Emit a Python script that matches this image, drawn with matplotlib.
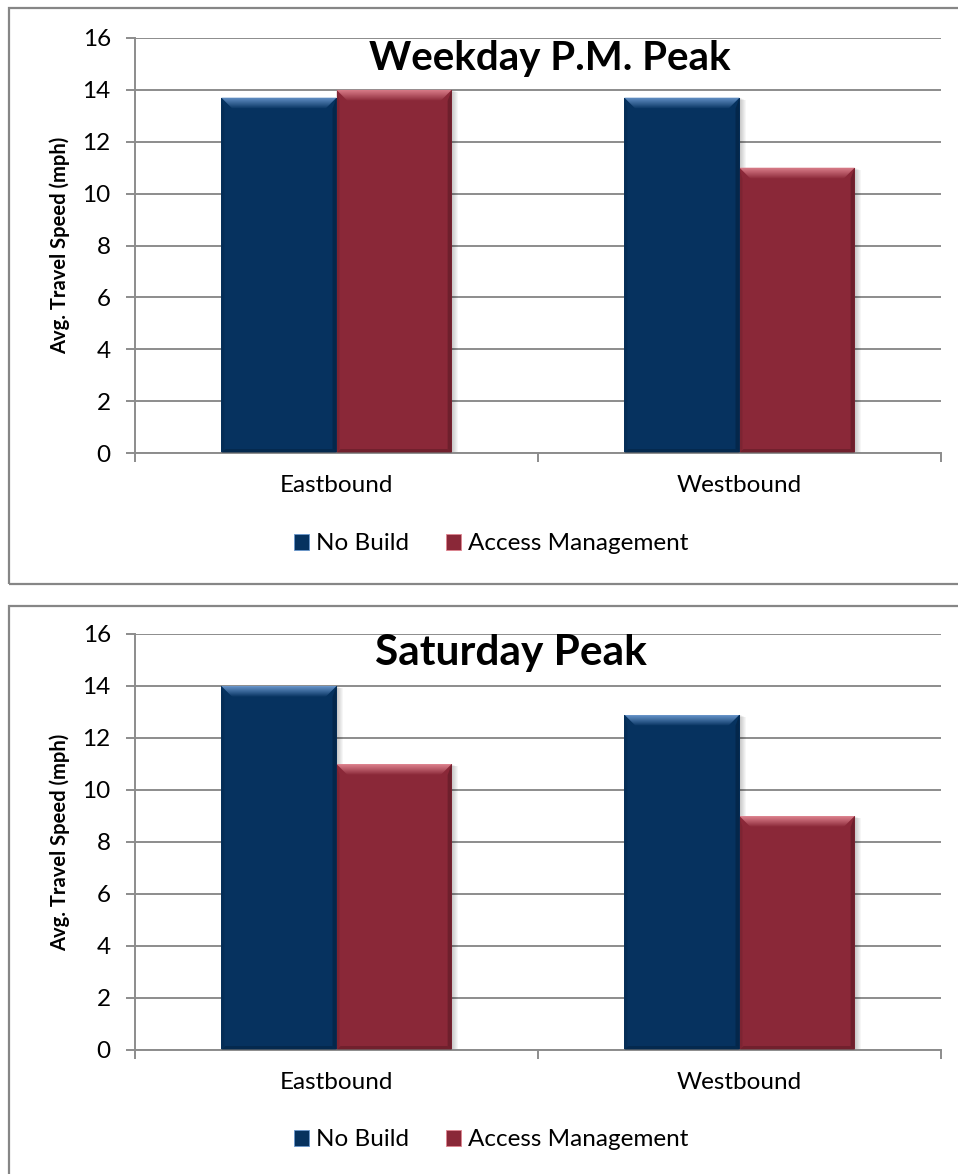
"""
Average travel speed by direction, No Build vs Access Management,
for the weekday P.M. peak and the Saturday peak.
"""
import numpy as np
import matplotlib.pyplot as plt
from matplotlib.patches import Rectangle, Polygon
from matplotlib.colors import to_rgb

# ----------------------------------------------------------------------
directions = ["Eastbound", "Westbound"]
series_names = ["No Build", "Access Management"]

weekday_no_build = [13.7, 13.7]
weekday_access = [14.0, 11.0]
saturday_no_build = [14.0, 12.9]
saturday_access = [11.0, 9.0]

y_ticks = [0, 2, 4, 6, 8, 10, 12, 14, 16]
panel_titles = ["Weekday P.M. Peak", "Saturday Peak"]
y_label = "Avg. Travel Speed (mph)"
# ----------------------------------------------------------------------

FIG_W, FIG_H = 958, 1174
DPI = 100
FONT = ["Lato", "DejaVu Sans"]
GRID = "#8c8c8c"
TICK_FS = 17.5

BLUE = "#06325f"
BLUE_HI = "#6896cc"
RED = "#8a2838"
RED_HI = "#e08490"

plt.rcParams["font.family"] = FONT


def mix(c1, c2, t):
    a, b = np.array(to_rgb(c1)), np.array(to_rgb(c2))
    return a * (1 - t) + b * t


def px_to_data(ax):
    inv = ax.transData.inverted()
    p0 = inv.transform((0, 0))
    p1 = inv.transform((1, 1))
    return p1[0] - p0[0], p1[1] - p0[1]


def bevel_bar(ax, rect, base, light):
    """Excel style bevel: lit top edge, darker right edge, soft shadow."""
    x0, w, h = rect.get_x(), rect.get_width(), rect.get_height()
    dx, dy = px_to_data(ax)
    bx, by = 11 * dx, 11 * dy

    # soft shadow to the right / below
    for k in range(1, 7):
        ax.add_patch(Rectangle((x0 + k * dx, -k * 0.4 * dy), w, h,
                               facecolor="black", alpha=0.035,
                               edgecolor="none", zorder=1.5))

    # top bevel with gradient
    poly = Polygon([(x0, h), (x0 + w, h), (x0 + w - bx, h - by), (x0 + bx, h - by)],
                   closed=True, facecolor="none", edgecolor="none",
                   transform=ax.transData)
    ax.add_patch(poly)
    t = np.linspace(0, 1, 60)
    cols = np.array([mix(light, base, min(1.0, 0.05 + 0.95 * v ** 1.1)) for v in t])
    cols[:2] = mix(light, "white", 0.1)
    img = np.repeat(cols[:, None, :], 4, axis=1)
    im = ax.imshow(img, extent=[x0, x0 + w, h - by, h], origin="upper",
                   aspect="auto", interpolation="bilinear", zorder=3)
    im.set_clip_path(poly)

    # darker right edge and bottom edge
    dark = mix(base, "black", 0.35)
    ax.add_patch(Polygon([(x0 + w, h), (x0 + w, 0), (x0 + w - 4 * dx, 4 * dy),
                          (x0 + w - 4 * dx, h - by)],
                         closed=True, facecolor=dark, edgecolor="none",
                         alpha=0.6, zorder=2.9))
    ax.add_patch(Polygon([(x0, 0), (x0 + w, 0), (x0 + w - 4 * dx, 4 * dy),
                          (x0 + 4 * dx, 4 * dy)],
                         closed=True, facecolor=dark, edgecolor="none",
                         alpha=0.5, zorder=2.9))
    ax.add_patch(Polygon([(x0, h), (x0, 0), (x0 + 3 * dx, 3 * dy),
                          (x0 + 3 * dx, h - by)],
                         closed=True, facecolor=dark, edgecolor="none",
                         alpha=0.25, zorder=2.9))


def draw_panel(fig, rect_px, title, title_xy, title_fs, nb_vals, am_vals, legend_y):
    left, top, right, bottom = rect_px
    ax = fig.add_axes([left / FIG_W, 1 - bottom / FIG_H,
                       (right - left) / FIG_W, (bottom - top) / FIG_H])

    n = len(directions)
    centers = np.arange(n) + 0.5
    width = 1 / 3.5  # gap width 150%
    ax.set_xlim(0, n)
    ax.set_ylim(0, 16)

    b1 = ax.bar(centers - width / 2, nb_vals, width, color=BLUE, zorder=2,
                label=series_names[0])
    b2 = ax.bar(centers + width / 2, am_vals, width, color=RED, zorder=2.2,
                label=series_names[1])
    for r in b1:
        bevel_bar(ax, r, BLUE, BLUE_HI)
    for r in b2:
        bevel_bar(ax, r, RED, RED_HI)
    ax.set_xlim(0, n)
    ax.set_ylim(0, 16)

    ax.set_yticks(y_ticks)
    ax.yaxis.grid(True, color=GRID, linewidth=1.4)
    ax.set_axisbelow(True)
    ax.set_xticks(np.arange(n + 1))
    ax.set_xticklabels([])
    ax.set_xticks(centers, minor=True)
    ax.set_xticklabels(directions, minor=True)
    ax.tick_params(axis="x", which="minor", length=0, pad=16, labelsize=TICK_FS)
    ax.tick_params(axis="x", which="major", length=6.5, width=1.4, color=GRID)
    ax.tick_params(axis="y", length=6.5, width=1.4, color=GRID, pad=11,
                   labelsize=TICK_FS)
    for s in ("top", "right"):
        ax.spines[s].set_visible(False)
    for s in ("left", "bottom"):
        ax.spines[s].set_color(GRID)
        ax.spines[s].set_linewidth(1.4)

    fig.text(title_xy[0] / FIG_W, 1 - title_xy[1] / FIG_H, title,
             ha="center", va="baseline", fontsize=title_fs, fontweight="bold")
    fig.text(60 / FIG_W, 1 - (top + bottom) / 2 / FIG_H, y_label,
             rotation=90, ha="center", va="center", fontsize=14.5,
             fontweight="bold")

    handles = [Rectangle((0, 0), 1, 1, facecolor=BLUE, edgecolor=BLUE_HI, linewidth=0.6),
               Rectangle((0, 0), 1, 1, facecolor=RED, edgecolor=RED_HI, linewidth=0.6)]
    fig.legend(handles, series_names, loc="center",
               bbox_to_anchor=(491 / FIG_W, 1 - legend_y / FIG_H),
               ncol=2, frameon=False, fontsize=TICK_FS, handlelength=0.62,
               handleheight=0.62, handletextpad=0.3, columnspacing=1.5)
    return ax


def main():
    fig = plt.figure(figsize=(FIG_W / DPI, FIG_H / DPI), dpi=DPI)

    # chart area borders (right and lower edges run off the page)
    for y0, y1 in [(8, 584), (606, 1190)]:
        fig.patches.append(Rectangle((8.5 / FIG_W, 1 - y1 / FIG_H),
                                     (FIG_W + 10) / FIG_W, (y1 - y0) / FIG_H,
                                     transform=fig.transFigure, fill=False,
                                     edgecolor="#868686", linewidth=1.6))

    draw_panel(fig, (135, 38, 941, 453), panel_titles[0], (550, 70), 29,
               weekday_no_build, weekday_access, 544)
    draw_panel(fig, (135, 634, 941, 1050), panel_titles[1], (511, 665), 30.5,
               saturday_no_build, saturday_access, 1140)

    fig.savefig("out.png", dpi=DPI)
    plt.close(fig)


if __name__ == "__main__":
    main()
